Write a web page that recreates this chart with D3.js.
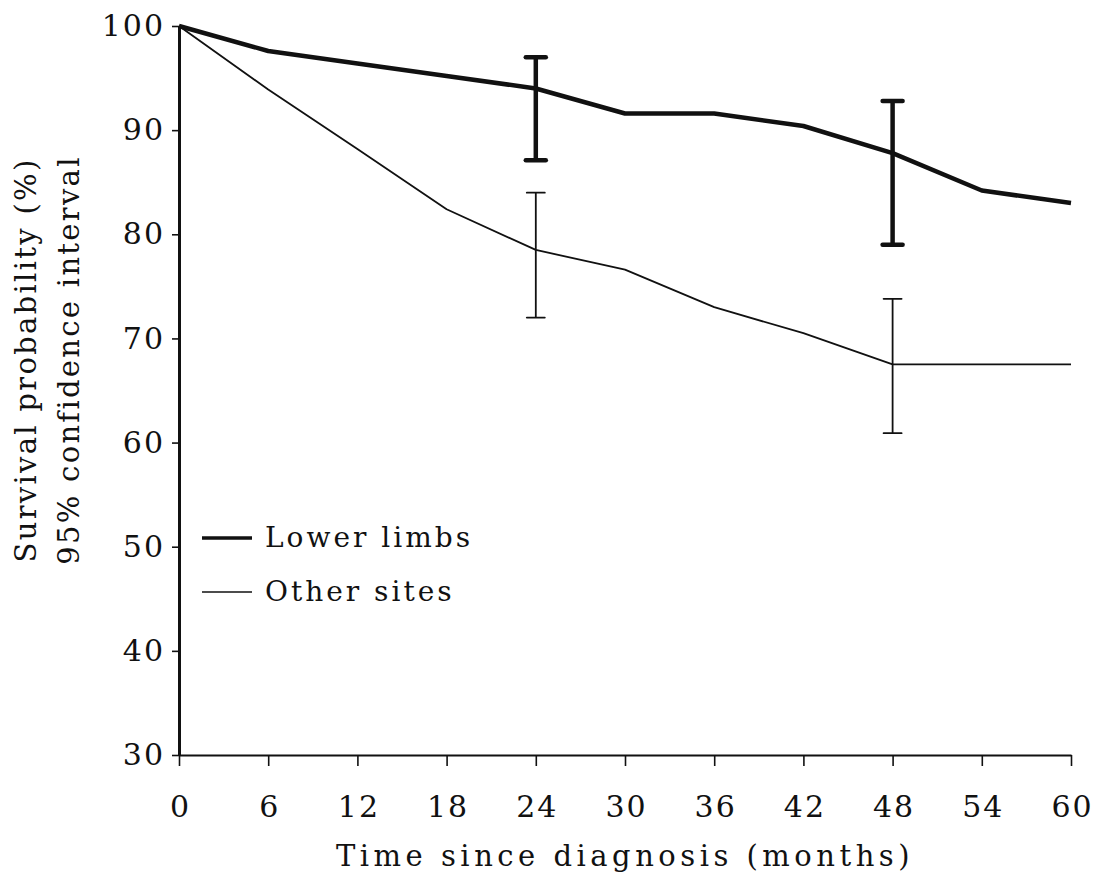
<!DOCTYPE html>
<meta charset="utf-8">
<style>
body { margin: 0; background: #fff; }
svg { display: block; }
text {
  font-family: 'DejaVu Serif', serif;
  fill: #111;
}
.axis text { font-size: 30px; letter-spacing: 2px; }
.axis line, .axis path { stroke: #111; }
</style>
<body>
<svg width="1095" height="879"></svg>
<script src="https://cdn.jsdelivr.net/npm/d3@7"></script>
<script>

// survival curves
var months = [0, 6, 12, 18, 24, 30, 36, 42, 48, 54, 60];
var lowerLimbs = [100, 97.6, 96.4, 95.2, 94.0, 91.6, 91.6, 90.4, 87.8, 84.2, 83.0];
var otherSites = [100, 93.9, 88.2, 82.4, 78.5, 76.6, 73.0, 70.5, 67.5, 67.5, 67.5];

// 95% confidence intervals
var ciMonths = [24, 48];
var lowerLimbsLow = [87.1, 79.0];
var lowerLimbsHigh = [97.0, 92.8];
var otherSitesLow = [72.0, 60.9];
var otherSitesHigh = [84.0, 73.8];

var xTicks = [0, 6, 12, 18, 24, 30, 36, 42, 48, 54, 60];
var yTicks = [30, 40, 50, 60, 70, 80, 90, 100];

var svg = d3.select("svg");

var x = d3.scaleLinear().domain([0, 60]).range([179, 1071]);
var y = d3.scaleLinear().domain([30, 100]).range([755, 26]);

var series = [
  {name: "Lower limbs", values: lowerLimbs, low: lowerLimbsLow, high: lowerLimbsHigh, width: 4.5, cap: 20},
  {name: "Other sites", values: otherSites, low: otherSitesLow, high: otherSitesHigh, width: 1.8, cap: 18}
];

// axes
var xAxis = svg.append("g")
    .attr("class", "axis")
    .attr("transform", "translate(0," + y(30) + ")")
    .call(d3.axisBottom(x).tickValues(xTicks).tickSize(11).tickSizeOuter(0).tickPadding(30));
xAxis.select(".domain").attr("stroke-width", 2.2);
xAxis.selectAll(".tick line").attr("stroke-width", 1.6);
xAxis.selectAll(".tick text").attr("dx", 1);

var yAxis = svg.append("g")
    .attr("class", "axis")
    .attr("transform", "translate(" + x(0) + ",0)")
    .call(d3.axisLeft(y).tickValues(yTicks).tickSize(7).tickSizeOuter(0).tickPadding(7));
yAxis.select(".domain").attr("stroke-width", 3);
yAxis.selectAll(".tick line").attr("stroke-width", 1.6);

svg.selectAll(".axis text").attr("fill", "#111");

// axis titles
svg.append("text")
    .attr("x", 625)
    .attr("y", 866)
    .attr("text-anchor", "middle")
    .style("font-size", "29px")
    .style("letter-spacing", "4.5px")
    .text("Time since diagnosis (months)");

svg.append("text")
    .attr("transform", "translate(36,360) rotate(-90)")
    .attr("text-anchor", "middle")
    .style("font-size", "29px")
    .style("letter-spacing", "2.3px")
    .text("Survival probability (%)");

svg.append("text")
    .attr("transform", "translate(79,360) rotate(-90)")
    .attr("text-anchor", "middle")
    .style("font-size", "29px")
    .style("letter-spacing", "2.3px")
    .text("95% confidence interval");

// curves
var line = d3.line()
    .x(function(d, i) { return x(months[i]); })
    .y(function(d) { return y(d); });

svg.selectAll(".curve")
    .data(series)
    .enter().append("path")
    .attr("class", "curve")
    .attr("d", function(d) { return line(d.values); })
    .attr("fill", "none")
    .attr("stroke", "#111")
    .attr("stroke-linejoin", "round")
    .attr("stroke-width", function(d) { return d.width; });

// error bars
series.forEach(function(s) {
  var g = svg.append("g");
  ciMonths.forEach(function(m, i) {
    g.append("line")
        .attr("x1", x(m)).attr("x2", x(m))
        .attr("y1", y(s.low[i])).attr("y2", y(s.high[i]))
        .attr("stroke", "#111")
        .attr("stroke-width", s.width);
    [s.low[i], s.high[i]].forEach(function(v) {
      g.append("line")
          .attr("x1", x(m) - s.cap / 2).attr("x2", x(m) + s.cap / 2)
          .attr("y1", y(v)).attr("y2", y(v))
          .attr("stroke", "#111")
          .attr("stroke-linecap", "round")
          .attr("stroke-width", s.width);
    });
  });
});

// legend
var legend = svg.append("g")
    .selectAll("g")
    .data(series)
    .enter().append("g")
    .attr("transform", function(d, i) { return "translate(202," + (538 + i * 54) + ")"; });

legend.append("line")
    .attr("x1", 0).attr("x2", 50)
    .attr("stroke", "#111")
    .attr("stroke-width", function(d) { return d.width * 0.8; });

legend.append("text")
    .attr("x", 63)
    .attr("y", 9)
    .style("font-size", "28px")
    .style("letter-spacing", "3px")
    .text(function(d) { return d.name; });

</script>
</body>
